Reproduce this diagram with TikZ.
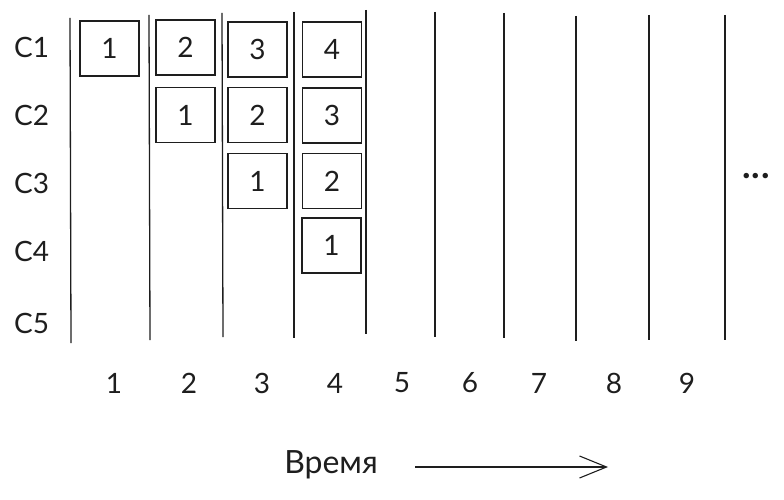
\documentclass[tikz,border=0pt]{standalone}
\usepackage{fontspec}
\setmainfont{Lato}
\usetikzlibrary{arrows.meta}
\definecolor{ink}{HTML}{1E1E1E}
\tikzset{
  cell/.style={draw=ink, line width=1.1pt, minimum width=59pt, minimum height=55pt, inner sep=0pt, font=\fontsize{28}{28}\selectfont, text=ink},
  lane/.style={draw=ink, line width=1.3pt},
  rowlab/.style={anchor=west, inner sep=0pt, font=\fontsize{28}{28}\selectfont, text=ink},
  tick/.style={inner sep=0pt, font=\fontsize{28}{28}\selectfont, text=ink},
}
\begin{document}
\begin{tikzpicture}[x=1pt,y=-1pt]
\useasboundingbox (0,0) rectangle (784,500);
% lanes
\draw[lane] (70,18) -- (71,343);
\draw[lane] (149,15) -- (150,340);
\draw[lane] (222,13) -- (223,337);
\draw[lane] (294,12) -- (294,338);
\draw[lane] (366,10) -- (366,334);
\draw[lane] (435,12) -- (435,337);
\draw[lane] (504,13) -- (504,338);
\draw[lane] (576,16) -- (576,341);
\draw[lane] (649,15) -- (649,340);
\draw[lane] (725,15) -- (725,340);
% row labels
\node[rowlab] (c1) at (14,47) {C1};
\node[rowlab] (c2) at (14,115) {C2};
\node[rowlab] (c3) at (14,183) {C3};
\node[rowlab] (c4) at (14,251) {C4};
\node[rowlab] (c5) at (14,323) {C5};
% cells
\node[cell] (a11) at (109.5,48.5) {1};
\node[cell] (a12) at (185.5,47.5) {2};
\node[cell] (a13) at (257.5,49.5) {3};
\node[cell] (a14) at (332,49.5) {4};
\node[cell] (a22) at (185.5,115) {1};
\node[cell] (a23) at (257.5,115) {2};
\node[cell] (a24) at (332,115.5) {3};
\node[cell] (a33) at (257.5,181) {1};
\node[cell] (a34) at (332,181) {2};
\node[cell] (a44) at (331.5,245.5) {1};
% dots
\node[tick, font=\fontsize{36}{36}\selectfont\bfseries] (dots) at (756,176) {.\kern1pt.\kern1pt.};
% time ticks
\node[tick] (t1) at (114,383) {1};
\node[tick] (t2) at (189,383) {2};
\node[tick] (t3) at (262,383) {3};
\node[tick] (t4) at (335,383) {4};
\node[tick] (t5) at (402,383) {5};
\node[tick] (t6) at (470,383) {6};
\node[tick] (t7) at (539,383) {7};
\node[tick] (t8) at (614,383) {8};
\node[tick] (t9) at (687,383) {9};
% time label and arrow
\node[tick, font=\fontsize{32}{32}\selectfont] (time) at (331,465) {Время};
\coordinate (tend) at (608,467);
\draw[draw=ink, line width=1.1pt, -{Straight Barb[length=27pt,width=22pt,line width=1.1pt]}] (415,467) -- (tend);
\end{tikzpicture}
\end{document}
